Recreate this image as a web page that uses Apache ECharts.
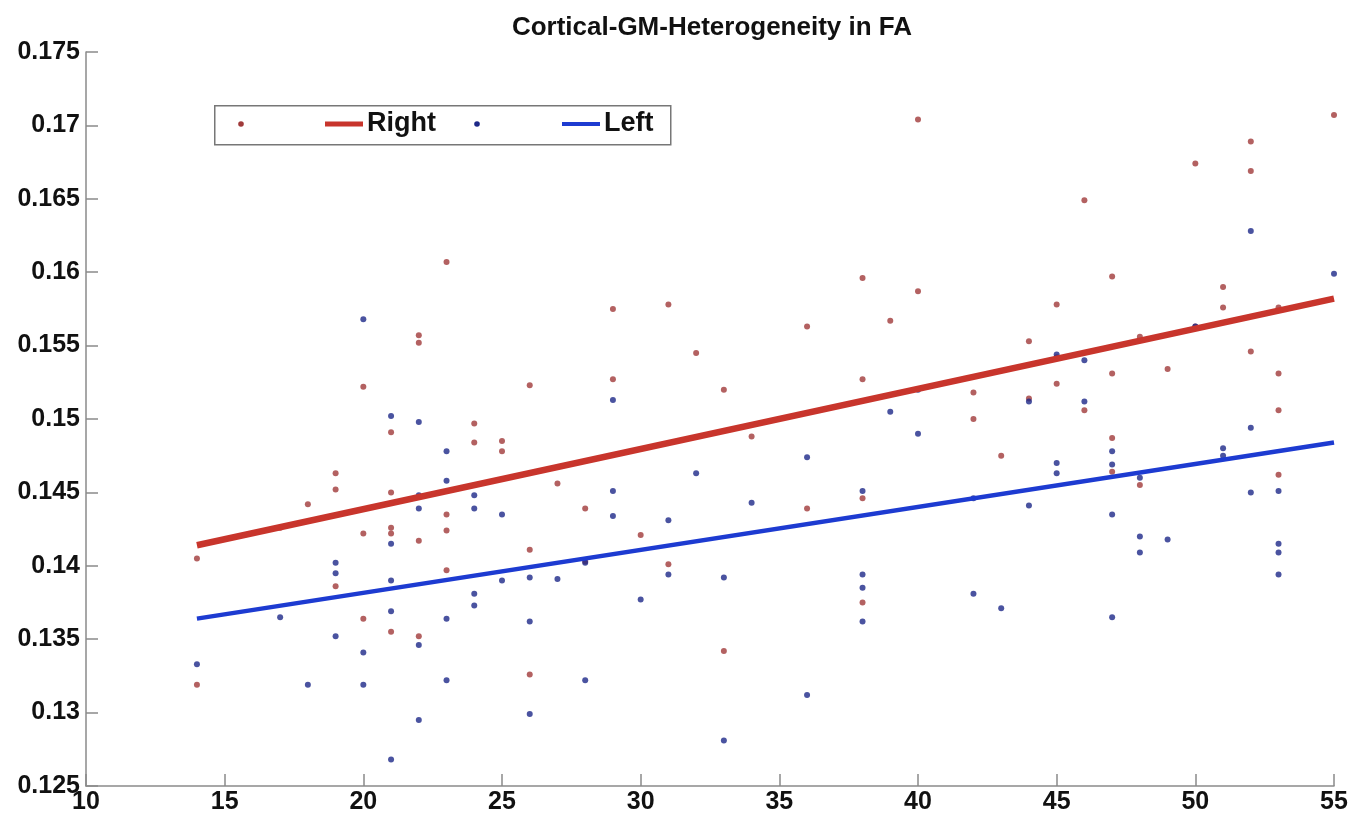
<!DOCTYPE html>
<html>
<head>
<meta charset="utf-8">
<script src="https://cdn.jsdelivr.net/npm/echarts@6/dist/echarts.min.js"></script>
<style>
html,body{margin:0;padding:0;background:#fff;}
#chart{width:1365px;height:821px;}
</style>
</head>
<body>
<div id="chart"></div>
<script>
// ---- data ----
const titleText = 'Cortical-GM-Heterogeneity in FA';
const xTicks = [10, 15, 20, 25, 30, 35, 40, 45, 50, 55];
const yTicks = [0.125, 0.13, 0.135, 0.14, 0.145, 0.15, 0.155, 0.16, 0.165, 0.17, 0.175];

// Right hemisphere (red dots): [age, FA heterogeneity]
const rightPoints = [
  [14,0.1405],[14,0.1319],
  [17,0.1426],
  [18,0.1442],
  [19,0.1463],[19,0.1452],[19,0.1386],
  [20,0.1522],[20,0.1422],[20,0.1364],
  [21,0.1491],[21,0.1450],[21,0.1426],[21,0.1422],[21,0.1355],
  [22,0.1557],[22,0.1552],[22,0.1417],[22,0.1352],
  [23,0.1607],[23,0.1435],[23,0.1424],[23,0.1397],
  [24,0.1497],[24,0.1484],
  [25,0.1485],[25,0.1478],
  [26,0.1523],[26,0.1411],[26,0.1326],
  [27,0.1456],
  [28,0.1439],[28,0.1403],
  [29,0.1575],[29,0.1527],
  [30,0.1421],
  [31,0.1578],[31,0.1401],
  [32,0.1545],
  [33,0.1520],[33,0.1342],
  [34,0.1488],
  [36,0.1563],[36,0.1439],
  [38,0.1596],[38,0.1527],[38,0.1446],[38,0.1375],
  [39,0.1567],
  [40,0.1704],[40,0.1587],
  [42,0.1518],[42,0.1500],
  [43,0.1475],
  [44,0.1553],[44,0.1514],
  [45,0.1578],[45,0.1542],[45,0.1524],
  [46,0.1649],[46,0.1506],
  [47,0.1597],[47,0.1531],[47,0.1487],[47,0.1464],
  [48,0.1556],[48,0.1455],
  [49,0.1534],
  [50,0.1674],[50,0.1563],
  [51,0.1590],[51,0.1576],
  [52,0.1689],[52,0.1669],[52,0.1546],
  [53,0.1576],[53,0.1531],[53,0.1506],[53,0.1462],
  [55,0.1707]
];

// Left hemisphere (blue dots): [age, FA heterogeneity]
const leftPoints = [
  [14,0.1333],
  [17,0.1365],
  [18,0.1319],
  [19,0.1402],[19,0.1395],[19,0.1352],
  [20,0.1568],[20,0.1341],[20,0.1319],
  [21,0.1502],[21,0.1415],[21,0.1390],[21,0.1369],[21,0.1268],
  [22,0.1498],[22,0.1448],[22,0.1439],[22,0.1346],[22,0.1295],
  [23,0.1478],[23,0.1458],[23,0.1364],[23,0.1322],
  [24,0.1448],[24,0.1439],[24,0.1381],[24,0.1373],
  [25,0.1435],[25,0.1390],
  [26,0.1392],[26,0.1362],[26,0.1299],
  [27,0.1391],
  [28,0.1402],[28,0.1322],
  [29,0.1513],[29,0.1451],[29,0.1434],
  [30,0.1377],
  [31,0.1431],[31,0.1394],
  [32,0.1463],
  [33,0.1392],[33,0.1281],
  [34,0.1443],
  [36,0.1474],[36,0.1312],
  [38,0.1451],[38,0.1394],[38,0.1385],[38,0.1362],
  [39,0.1505],
  [40,0.1520],[40,0.1490],
  [42,0.1446],[42,0.1381],
  [43,0.1371],
  [44,0.1512],[44,0.1441],
  [45,0.1544],[45,0.1470],[45,0.1463],
  [46,0.1540],[46,0.1512],
  [47,0.1478],[47,0.1469],[47,0.1435],[47,0.1365],
  [48,0.1460],[48,0.1420],[48,0.1409],
  [49,0.1418],
  [50,0.1563],
  [51,0.1480],[51,0.1475],
  [52,0.1628],[52,0.1494],[52,0.1450],
  [53,0.1451],[53,0.1415],[53,0.1409],[53,0.1394],
  [55,0.1599]
];

// Fitted lines (end points)
const rightFit = [[14,0.1414],[55,0.1582]];
const leftFit = [[14,0.1364],[55,0.1484]];

const legendNames = ['Right', 'Left'];

// ---- chart ----
const chart = echarts.init(document.getElementById('chart'), null, {renderer:'canvas'});
const FONT = 'Liberation Sans, Arial, Helvetica, sans-serif';
const axisColor = '#8a8a8a';
const redDot = '#a03a3a';
const blueDot = '#1d2888';
const redLine = '#c8352c';
const blueLine = '#1d3bd1';

const option = {
  backgroundColor: '#ffffff',
  animation: false,
  title: {
    text: titleText,
    left: 707, top: 10, textAlign: 'center',
    textStyle: {fontFamily: FONT, fontSize: 26, fontWeight: 'bold', color: '#111'}
  },
  grid: {left: 86, right: 31, top: 52, bottom: 35, containLabel: false},
  xAxis: {
    type: 'value', min: 10, max: 55, interval: 5,
    axisLine: {show: true, lineStyle: {color: axisColor, width: 1.5}},
    axisTick: {show: true, inside: true, length: 12, lineStyle: {color: axisColor, width: 1.5}},
    splitLine: {show: false},
    axisLabel: {
      fontFamily: FONT, fontSize: 25, fontWeight: 'bold', color: '#111', margin: 4,
      formatter: v => xTicks.indexOf(v) >= 0 ? String(v) : ''
    }
  },
  yAxis: {
    type: 'value', min: 0.125, max: 0.175, interval: 0.005,
    axisLine: {show: true, lineStyle: {color: axisColor, width: 1.5}},
    axisTick: {show: true, inside: true, length: 12, lineStyle: {color: axisColor, width: 1.5}},
    splitLine: {show: false},
    axisLabel: {
      fontFamily: FONT, fontSize: 25, fontWeight: 'bold', color: '#111', margin: 6,
      formatter: v => {
        const t = yTicks.find(k => Math.abs(k - v) < 1e-9);
        return t === undefined ? '' : String(+t.toFixed(3));
      }
    }
  },
  series: [
    {
      name: 'Right points', type: 'scatter', data: rightPoints,
      symbol: 'circle', symbolSize: 6, itemStyle: {color: redDot}, z: 3
    },
    {
      name: 'Left points', type: 'scatter', data: leftPoints,
      symbol: 'circle', symbolSize: 6, itemStyle: {color: blueDot}, z: 3
    },
    {
      name: legendNames[0], type: 'line', data: rightFit, showSymbol: false,
      lineStyle: {color: redLine, width: 6.5}, z: 4
    },
    {
      name: legendNames[1], type: 'line', data: leftFit, showSymbol: false,
      lineStyle: {color: blueLine, width: 4.5}, z: 4
    }
  ],
  graphic: [
    {type:'rect', left: 214, top: 105, shape:{width: 456, height: 39},
      style:{fill:'#fff', stroke:'#777', lineWidth:1.5}, z: 10},
    {type:'circle', shape:{cx:241, cy:124, r:2.8}, style:{fill:redDot}, z: 11},
    {type:'line', shape:{x1:325, y1:124, x2:363, y2:124}, style:{stroke:redLine, lineWidth:5}, z: 11},
    {type:'text', left: 367, top: 110, style:{text: legendNames[0], fontFamily: FONT, fontSize: 27, fontWeight:'bold', fill:'#111'}, z: 11},
    {type:'circle', shape:{cx:477, cy:124, r:2.8}, style:{fill:blueDot}, z: 11},
    {type:'line', shape:{x1:562, y1:124, x2:600, y2:124}, style:{stroke:blueLine, lineWidth:4}, z: 11},
    {type:'text', left: 604, top: 110, style:{text: legendNames[1], fontFamily: FONT, fontSize: 27, fontWeight:'bold', fill:'#111'}, z: 11}
  ]
};
chart.setOption(option);
</script>
</body>
</html>
